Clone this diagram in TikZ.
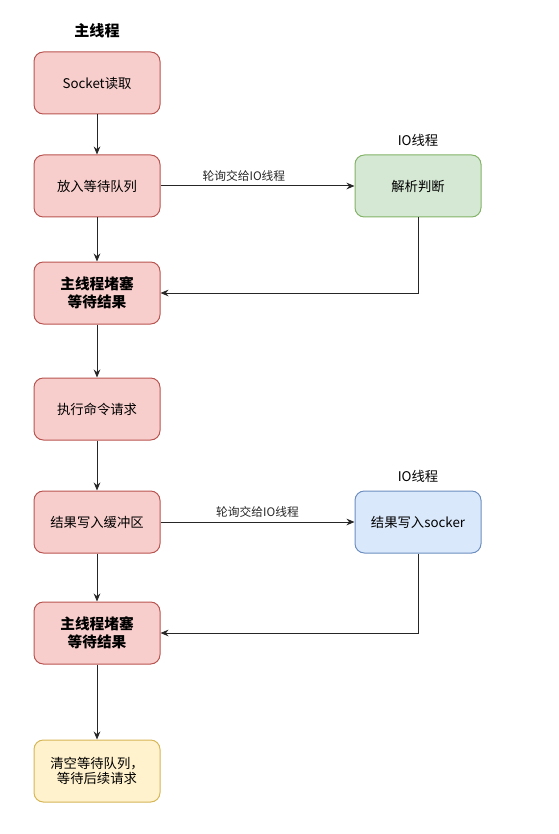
\documentclass[tikz,border=0pt]{standalone}
\usepackage{fontspec}
\setmainfont{Noto Sans CJK SC}
\usepackage{tikz}
\usetikzlibrary{arrows.meta,positioning}

\definecolor{redfill}{HTML}{F8CECC}
\definecolor{reddraw}{HTML}{B85450}
\definecolor{greenfill}{HTML}{D5E8D4}
\definecolor{greendraw}{HTML}{82B366}
\definecolor{bluefill}{HTML}{DAE8FC}
\definecolor{bluedraw}{HTML}{6C8EBF}
\definecolor{yellowfill}{HTML}{FFF2CC}
\definecolor{yellowdraw}{HTML}{D6B656}

\begin{document}
\begin{tikzpicture}[
  every node/.style={font=\fontsize{10pt}{11.5pt}\selectfont},
  box/.style={draw,line width=0.75pt,rounded corners=7pt,minimum height=46.5pt,minimum width=94.5pt,align=center},
  redbox/.style={box,fill=redfill,draw=reddraw},
  greenbox/.style={box,fill=greenfill,draw=greendraw},
  bluebox/.style={box,fill=bluefill,draw=bluedraw},
  yellowbox/.style={box,fill=yellowfill,draw=yellowdraw},
  boldtext/.style={font=\fontsize{11pt}{13.5pt}\selectfont\bfseries},
  flow/.style={draw,line width=0.75pt,black!85,-{Stealth[length=6pt,width=5pt]}},
  lbl/.style={font=\fontsize{8.8pt}{10pt}\selectfont}]

\useasboundingbox (0,0) rectangle (419.25pt,-625.5pt);

\node[redbox] (read) at (72.75pt,-62.25pt) {Socket读取};
\node[redbox,below=30pt of read] (queue) {放入等待队列};
\node[redbox,boldtext,below=33pt of queue] (wait1) {主线程堵塞\\等待结果};
\node[redbox,below=39.75pt of wait1] (exec) {执行命令请求};
\node[redbox,below=37.5pt of exec] (buffer) {结果写入缓冲区};
\node[redbox,boldtext,below=36pt of buffer] (wait2) {主线程堵塞\\等待结果};
\node[yellowbox,below=56.25pt of wait2] (clear) {清空等待队列，\\等待后续请求};

\node[greenbox,right=145.5pt of queue] (parse) {解析判断};
\node[bluebox,right=145.5pt of buffer] (write) {结果写入socker};

\node[above=7pt of read,font=\fontsize{11.3pt}{12pt}\selectfont\bfseries] (main) {主线程};
\node[above=2.5pt of parse] (io1) {IO线程};
\node[above=2.5pt of write] (io2) {IO线程};

\draw[flow] (read) -- (queue);
\draw[flow] (queue) -- (wait1);
\draw[flow] (wait1) -- (exec);
\draw[flow] (exec) -- (buffer);
\draw[flow] (buffer) -- (wait2);
\draw[flow] (wait2) -- (clear);

\draw[flow] (queue) -- (parse) node[lbl,pos=0.43,above]{轮询交给IO线程};
\draw[flow] (parse.south) |- (wait1.east);
\draw[flow] (buffer) -- (write) node[lbl,midway,above]{轮询交给IO线程};
\draw[flow] (write.south) |- (wait2.east);
\end{tikzpicture}
\end{document}
